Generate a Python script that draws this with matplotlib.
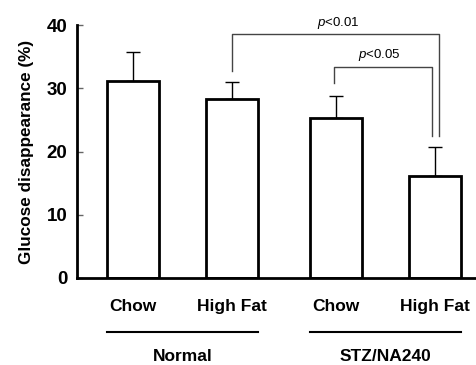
import matplotlib
matplotlib.use("Agg")
import matplotlib.pyplot as plt
from matplotlib.transforms import blended_transform_factory

plt.rcParams['font.family'] = ['Liberation Sans', 'DejaVu Sans']
plt.rcParams['mathtext.fontset'] = 'custom'
plt.rcParams['mathtext.it'] = 'Liberation Sans:italic'
plt.rcParams['mathtext.rm'] = 'Liberation Sans'

diets = ["Chow", "High Fat", "Chow", "High Fat"]
groups = ["Normal", "STZ/NA240"]
values = [31.2, 28.3, 25.3, 16.2]
errors = [4.6, 2.7, 3.5, 4.5]
yticks = [0, 10, 20, 30, 40]

pos = [0, 1, 2.05, 3.05]
width = 0.525

fig = plt.figure(figsize=(4.76, 3.65), dpi=100)
ax = fig.add_axes([77/476, 87/365, 1 - 77/476, 253/365])

ax.bar(pos, values, width=width, color='white', edgecolor='black', linewidth=2, zorder=2)
ax.errorbar(pos, values, yerr=[[0]*4, errors], fmt='none', ecolor='black',
            elinewidth=1, capsize=5, capthick=1, zorder=1)

ax.set_xlim(-0.566, 3.465)
ax.set_ylim(0, 40)
ax.set_yticks(yticks)
ax.set_yticklabels([str(v) for v in yticks], fontsize=13.5, fontweight='bold')
ax.tick_params(axis='y', direction='in', length=4, width=1, color='#666666', pad=7)
ax.set_xticks(pos)
ax.set_xticklabels(diets, fontsize=12.5, fontweight='bold')
ax.tick_params(axis='x', length=0, pad=15)
for s in ['top', 'right']:
    ax.spines[s].set_visible(False)
ax.spines['left'].set_linewidth(2)
ax.spines['bottom'].set_linewidth(2)

ax.set_ylabel("Glucose disappearance (%)", fontsize=12.3, fontweight='bold', labelpad=9)

# significance brackets
bc = '#444444'
ax.plot([1, 1, 3.09, 3.09], [32.7, 38.5, 38.5, 22.5], color=bc, lw=1, clip_on=False)
ax.plot([2.03, 2.03, 3.02, 3.02], [30.9, 33.4, 33.4, 22.5], color=bc, lw=1, clip_on=False)
ax.text(2.07, 40.3, r'$\it{p}$<0.01', ha='center', va='center', fontsize=9.5, clip_on=False)
ax.text(2.49, 35.2, r'$\it{p}$<0.05', ha='center', va='center', fontsize=9.5, clip_on=False)

# group labels
tr = blended_transform_factory(ax.transData, ax.transAxes)
for (a, b), g in zip([(pos[0], pos[1]), (pos[2], pos[3])], groups):
    ax.plot([a - width/2, b + width/2], [-0.213, -0.213], color='black', lw=1.5,
            transform=tr, clip_on=False)
    ax.text((a + b) / 2, -0.312, g, transform=tr, ha='center', va='center',
            fontsize=12.5, fontweight='bold')

fig.savefig("out.png", dpi=100)
